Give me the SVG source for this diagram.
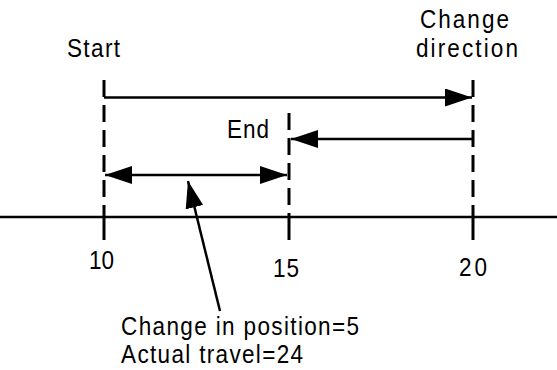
<svg xmlns="http://www.w3.org/2000/svg" width="557" height="370" viewBox="0 0 557 370">
  <style>
    .t { font-family: "Liberation Sans", Arial, sans-serif; font-size: 26.5px; fill: #000; }
    .dash { stroke: #000; stroke-width: 3; stroke-dasharray: 17 8; fill: none; }
    .ln { stroke: #000; stroke-width: 2.5; fill: none; }
    .tick { stroke: #000; stroke-width: 3; fill: none; }
  </style>
  <defs>
    <marker id="ah" viewBox="0 0 27 18" refX="27" refY="9" markerWidth="27" markerHeight="18" markerUnits="userSpaceOnUse" orient="auto-start-reverse">
      <path d="M0,0 L27,9 L0,18 Z" fill="#000"/>
    </marker>
  </defs>
  <rect width="557" height="370" fill="#fff"/>

  <g id="axis">
    <line class="ln" x1="0" y1="217" x2="557" y2="217"/>
    <line class="tick" x1="104" y1="217" x2="104" y2="240"/>
    <line class="tick" x1="289" y1="217" x2="289" y2="240"/>
    <line class="tick" x1="473" y1="217" x2="473" y2="240"/>
    <text class="t" transform="scale(0.85 1)" x="104.7" y="269" textLength="29.4" lengthAdjust="spacing">10</text>
    <text class="t" transform="scale(0.85 1)" x="321.2" y="277" textLength="30.6" lengthAdjust="spacing">15</text>
    <text class="t" transform="scale(0.85 1)" x="540" y="276" textLength="32.9" lengthAdjust="spacing">20</text>
  </g>

  <g id="start">
    <line class="dash" x1="104" y1="80" x2="104" y2="217"/>
    <text class="t" transform="scale(0.85 1)" x="78.8" y="57" textLength="62.4" lengthAdjust="spacing">Start</text>
  </g>

  <g id="end">
    <line class="dash" x1="289" y1="113" x2="289" y2="217"/>
    <text class="t" transform="scale(0.85 1)" x="267.1" y="138" textLength="49.4" lengthAdjust="spacing">End</text>
  </g>

  <g id="change-direction">
    <line class="dash" x1="473" y1="80" x2="473" y2="217"/>
    <text class="t" transform="scale(0.85 1)" x="494.1" y="28" textLength="104.7" lengthAdjust="spacing">Change</text>
    <text class="t" transform="scale(0.85 1)" x="489.4" y="57" textLength="120" lengthAdjust="spacing">direction</text>
  </g>

  <g id="label">
    <text class="t" transform="scale(0.85 1)" x="142.4" y="335" textLength="280" lengthAdjust="spacing">Change in position=5</text>
    <text class="t" transform="scale(0.85 1)" x="142.4" y="363" textLength="214.1" lengthAdjust="spacing">Actual travel=24</text>
  </g>

  <g id="connectors">
    <line class="ln" x1="104" y1="97.5" x2="472" y2="97.5" marker-end="url(#ah)"/>
    <line class="ln" x1="472" y1="139" x2="291" y2="139" marker-end="url(#ah)"/>
    <line class="ln" x1="105" y1="175" x2="287" y2="175" marker-start="url(#ah)" marker-end="url(#ah)"/>
    <line class="ln" x1="220" y1="311" x2="188" y2="181" marker-end="url(#ah)"/>
  </g>
</svg>
